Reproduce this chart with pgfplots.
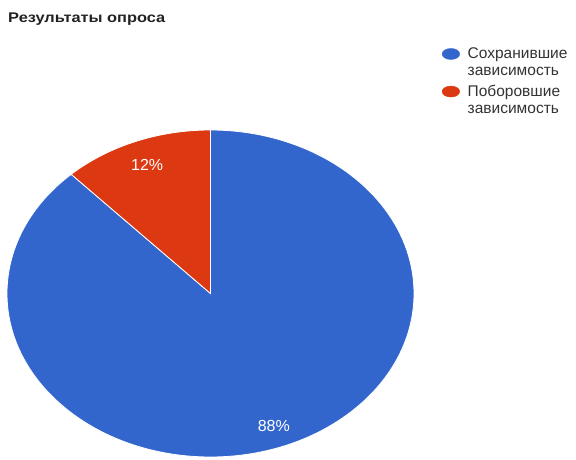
\documentclass[border=0pt]{standalone}
\usepackage{fontspec}
\setmainfont{Liberation Sans}
\usepackage{pgfplots}
\usepackage{pgfplotstable}
\usetikzlibrary{calc}
\pgfplotsset{compat=1.18}

\definecolor{pieblue}{HTML}{3366CC}
\definecolor{piered}{HTML}{DC3912}
\definecolor{txt}{HTML}{222222}
\definecolor{legtxt}{HTML}{333333}

% shares in percent: kept the addiction / overcame it
\pgfplotstableread{
share
88
12
}\poll

\newcommand\twoline[2]{\raisebox{0pt}[\height][0pt]{\parbox[t]{110pt}{#1\\#2}}}

\begin{document}
\begin{tikzpicture}
\pgfplotstablegetelem{0}{share}\of\poll \let\kept\pgfplotsretval
\pgfplotstablegetelem{1}{share}\of\poll \let\beat\pgfplotsretval
\pgfmathsetmacro\split{90+3.6*\beat}
\pgfmathsetmacro\midR{90+1.8*\beat}
\pgfmathsetmacro\midB{\split+1.8*\kept}
\begin{axis}[
    scale only axis, width=576pt, height=459pt,
    xmin=0, xmax=576, ymin=-459, ymax=0,
    axis line style={draw=none}, xtick=\empty, ytick=\empty,
    clip=false,
    legend cell align=left,
    legend style={at={(0.762,0.905)}, anchor=north west, draw=none, fill=none,
        font=\fontsize{15.5}{17}\selectfont, text=legtxt, row sep=21pt,
        /tikz/every odd column/.append style={column sep=6pt}},
]
\addlegendimage{only marks, mark=*, mark size=5.5pt, mark options={draw=pieblue, fill=pieblue, xscale=1.6}}
\addlegendentry{\twoline{Сохранившие}{зависимость}}
\addlegendimage{only marks, mark=*, mark size=5.5pt, mark options={draw=piered, fill=piered, xscale=1.6}}
\addlegendentry{\twoline{Поборовшие}{зависимость}}

% pie, centre (210.5,-293.5), radii 203.5 x 163.5
\fill[pieblue, draw=white, line width=0.8pt] (axis cs:210.5,-293.5) -- ++(\split:203.5pt and 163.5pt)
    arc[start angle=\split, end angle=450, x radius=203.5pt, y radius=163.5pt] -- cycle;
\fill[piered, draw=white, line width=0.8pt] (axis cs:210.5,-293.5) -- ++(90:203.5pt and 163.5pt)
    arc[start angle=90, end angle=\split, x radius=203.5pt, y radius=163.5pt] -- cycle;

\node[text=white, font=\fontsize{16}{18}\selectfont] at ($(axis cs:210.5,-293.5)+(\midR:172pt and 138pt)$) {\beat\%};
\node[text=white, font=\fontsize{16}{18}\selectfont] at ($(axis cs:210.5,-293.5)+(\midB:172pt and 143pt)$) {\kept\%};

\node[anchor=base west, inner sep=0pt, xscale=1.17, text=txt, font=\bfseries\fontsize{14}{16}\selectfont] at (axis cs:8,-23) {Результаты опроса};
\coordinate (bl) at (rel axis cs:0,0);
\coordinate (tr) at (rel axis cs:1,1);
\end{axis}
\pgfresetboundingbox
\path[use as bounding box] (bl) rectangle (tr);
\end{tikzpicture}
\end{document}
